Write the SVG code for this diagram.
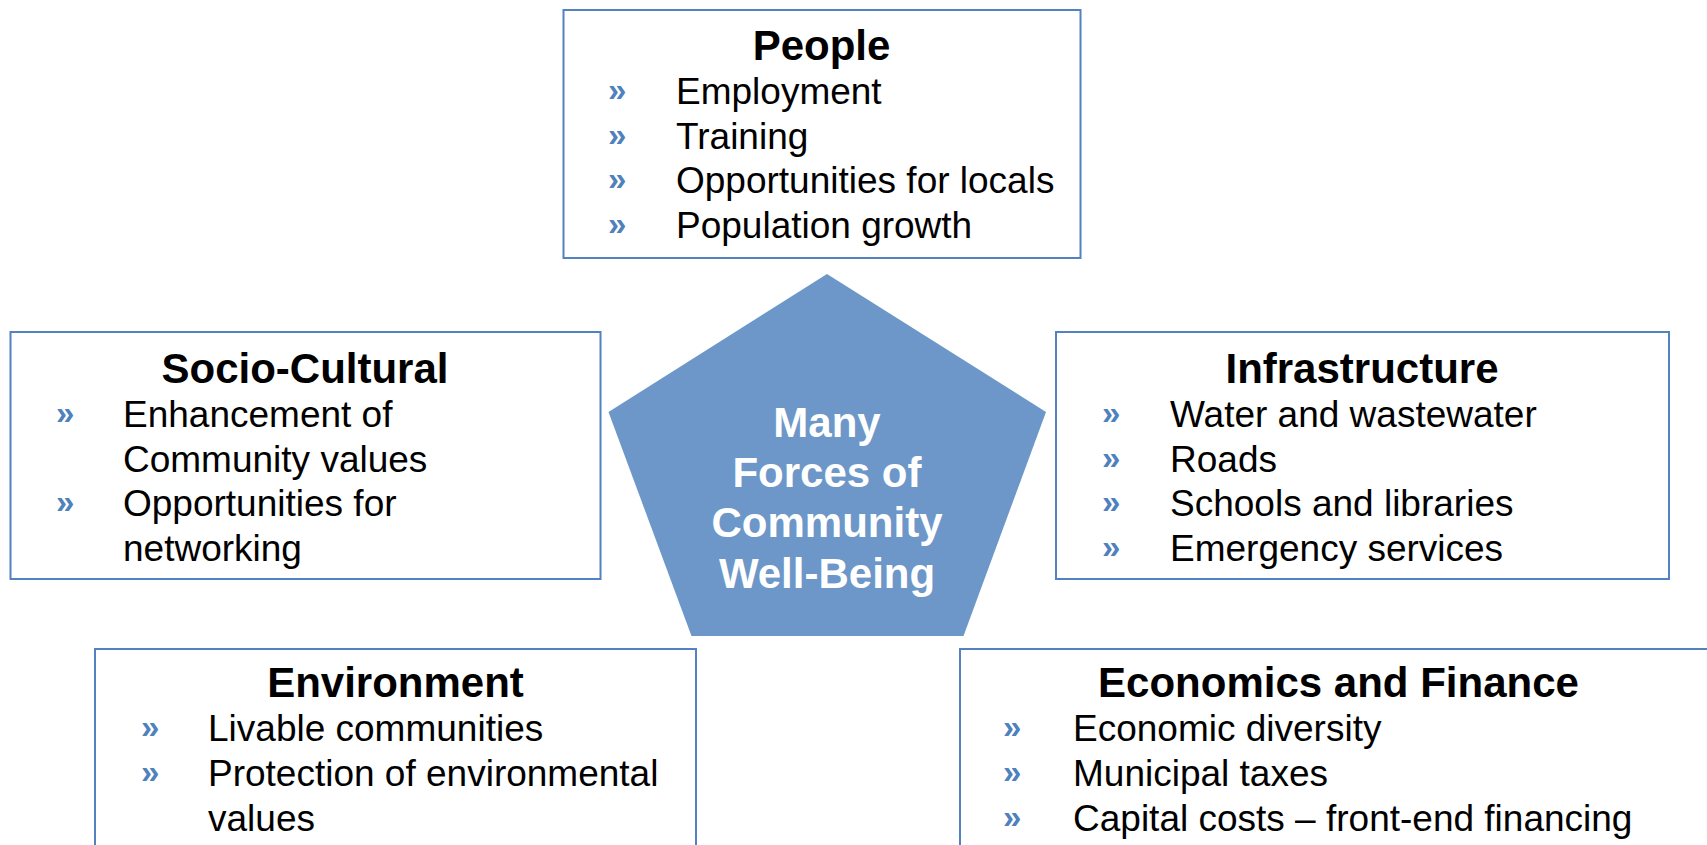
<svg xmlns="http://www.w3.org/2000/svg" width="1707" height="845" viewBox="0 0 1707 845">
<style>
.box{fill:#ffffff;stroke:#5282c0;stroke-width:2}
.title{font-family:"Liberation Sans",Arial,sans-serif;font-weight:bold;font-size:42px;fill:#000;text-anchor:middle}
.item{font-family:"Liberation Sans",Arial,sans-serif;font-size:37px;fill:#000}
.bul{font-family:"Liberation Sans",Arial,sans-serif;font-size:33px;fill:#4f81bd;font-weight:bold}
.ctr{font-family:"Liberation Sans",Arial,sans-serif;font-weight:bold;font-size:42px;fill:#ffffff;text-anchor:middle}
</style>
<rect width="1707" height="845" fill="#ffffff"/>
<g id="people">
<rect class="box" x="563.5" y="10" width="517" height="248"/>
<text class="title" x="821.5" y="60">People</text>
<text class="bul" x="608" y="101">»</text><text class="item" x="676" y="104">Employment</text>
<text class="bul" x="608" y="145.5">»</text><text class="item" x="676" y="148.5">Training</text>
<text class="bul" x="608" y="190">»</text><text class="item" x="676" y="193">Opportunities for locals</text>
<text class="bul" x="608" y="234.5">»</text><text class="item" x="676" y="237.5">Population growth</text>
</g>
<g id="socio-cultural">
<rect class="box" x="10.5" y="332" width="590" height="247"/>
<text class="title" x="305" y="383">Socio-Cultural</text>
<text class="bul" x="56" y="424">»</text><text class="item" x="123" y="427">Enhancement of</text>
<text class="item" x="123" y="471.5">Community values</text>
<text class="bul" x="56" y="513">»</text><text class="item" x="123" y="516">Opportunities for</text>
<text class="item" x="123" y="560.5">networking</text>
</g>
<g id="infrastructure">
<rect class="box" x="1056" y="332" width="613" height="247"/>
<text class="title" x="1362" y="383">Infrastructure</text>
<text class="bul" x="1102" y="424">»</text><text class="item" x="1170" y="427">Water and wastewater</text>
<text class="bul" x="1102" y="468.5">»</text><text class="item" x="1170" y="471.5">Roads</text>
<text class="bul" x="1102" y="513">»</text><text class="item" x="1170" y="516">Schools and libraries</text>
<text class="bul" x="1102" y="557.5">»</text><text class="item" x="1170" y="560.5">Emergency services</text>
</g>
<g id="environment">
<rect class="box" x="95" y="649" width="601" height="220"/>
<text class="title" x="395.5" y="697">Environment</text>
<text class="bul" x="141" y="738">»</text><text class="item" x="208" y="741">Livable communities</text>
<text class="bul" x="141" y="783">»</text><text class="item" x="208" y="786">Protection of environmental</text>
<text class="item" x="208" y="830.5">values</text>
</g>
<g id="economics">
<rect class="box" x="960" y="649" width="800" height="220"/>
<text class="title" x="1338.5" y="697">Economics and Finance</text>
<text class="bul" x="1003" y="738">»</text><text class="item" x="1073" y="741">Economic diversity</text>
<text class="bul" x="1003" y="783">»</text><text class="item" x="1073" y="786">Municipal taxes</text>
<text class="bul" x="1003" y="827.5">»</text><text class="item" x="1073" y="830.5">Capital costs – front-end financing</text>
</g>
<g id="center">
<polygon points="827,274 1046,412 963.5,636 691.5,636 608.5,412" fill="#6c97c8"/>
<text class="ctr" x="827" y="437">Many</text>
<text class="ctr" x="827" y="487">Forces of</text>
<text class="ctr" x="827" y="537">Community</text>
<text class="ctr" x="827" y="588">Well-Being</text>
</g>
<g id="connectors"></g>
</svg>
